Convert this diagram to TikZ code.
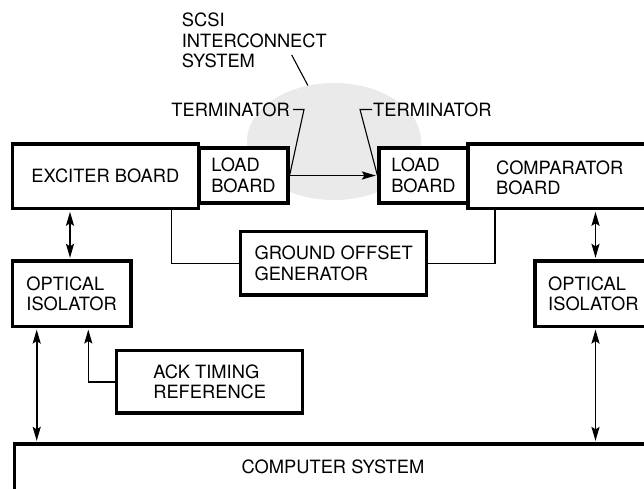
\documentclass[tikz,border=0pt]{standalone}
\usepackage{fontspec}
\setmainfont{TeX Gyre Heros}
\usetikzlibrary{arrows.meta,shapes.geometric}
\definecolor{haze}{RGB}{234,234,234}
\begin{document}
\begin{tikzpicture}[x=1pt,y=-1pt,
  font=\fontsize{18.3}{20.5}\selectfont,
  blk/.style={draw, line width=3.2pt, fill=white, inner sep=0pt, align=left},
  txt/.style={inner sep=0pt, align=left},
  link/.style={line width=1.3pt},
  tip/.tip={Stealth[length=14pt,width=8pt,inset=2.5pt]},
  flow/.style={line width=1.7pt, -tip, shorten >=1.5pt},
  both/.style={line width=1.9pt, tip-tip, shorten >=1.5pt, shorten <=1.5pt},
  lead/.style={line width=1.1pt}]
\useasboundingbox (0,0) rectangle (644,489);
\clip (0,0) rectangle (644,489);

% shaded interconnect region
\node[ellipse, fill=haze, minimum width=174pt, minimum height=117pt, inner sep=0pt] (scsi) at (334,141.5) {};

% labels and leaders
\node[txt, anchor=north west] (scsit) at (181.7,13) {SCSI\\INTERCONNECT\\SYSTEM};
\coordinate (scsifoot) at (291.7,55);
\draw[lead] (scsifoot) -- (scsi.115);
\node[txt, anchor=east] (terml) at (290,109.5) {TERMINATOR};
\node[txt, anchor=west] (termr) at (373,109.5) {TERMINATOR};

% blocks
\node[blk, minimum width=186.2pt, minimum height=64.7pt] (exc) at (105.4,176.3) {EXCITER BOARD};
\node[blk, minimum width=89pt, minimum height=55pt] (ldl) at (243.5,175.5) {LOAD\\BOARD};
\node[blk, minimum width=89pt, minimum height=55pt] (ldr) at (423.5,175.5) {LOAD\\BOARD};
\node[blk, minimum width=252pt, minimum height=64.7pt] (cmp) at (594,176.35) {};
\node[txt, anchor=west] (cmpt) at (496,178) {COMPARATOR\\BOARD};
\node[blk, minimum width=118.7pt, minimum height=65.5pt] (isol) at (71.6,293.7) {OPTICAL\\ISOLATOR};
\node[blk, minimum width=185pt, minimum height=65.5pt] (isor) at (627.5,293.7) {};
\node[txt, anchor=west] (isort) at (548,294) {OPTICAL\\ISOLATOR};
\node[blk, minimum width=186pt, minimum height=63.3pt] (gog) at (333.7,263.3) {GROUND OFFSET\\GENERATOR};
\node[blk, minimum width=186pt, minimum height=62.3pt] (ack) at (209.7,381.9) {ACK TIMING\\REFERENCE};
\node[blk, minimum width=705.6pt, minimum height=76pt] (comp) at (367.2,482) {};
\node[txt] (compt) at (333,467) {COMPUTER SYSTEM};

% terminator leaders
\draw[lead] (terml.east) ++(3,0) -- ++(11,0) -- (ldl.east);
\draw[lead] (termr.west) ++(-1,0) -- ++(-12,0) -- (ldr.west);

% connector lanes
\coordinate (xa) at (70,0);
\coordinate (xb) at (36.7,0);
\coordinate (xc) at (88.3,0);
\coordinate (xd) at (171.7,0);
\coordinate (xe) at (495,0);
\coordinate (xf) at (595.5,0);

\draw[flow] (ldl.east) -- (ldr.west);
\draw[both] (exc.south -| xa) -- (isol.north -| xa);
\draw[both] (isol.south -| xb) -- (comp.north -| xb);
\draw[link, -tip, shorten >=1.5pt] (ack.west) -| (isol.south -| xc);
\draw[link] (exc.south -| xd) |- (gog.west);
\draw[link] (gog.east) -| (cmp.south -| xe);
\draw[both] (cmp.south -| xf) -- (isor.north -| xf);
\draw[both] (isor.south -| xf) -- (comp.north -| xf);
\end{tikzpicture}
\end{document}
